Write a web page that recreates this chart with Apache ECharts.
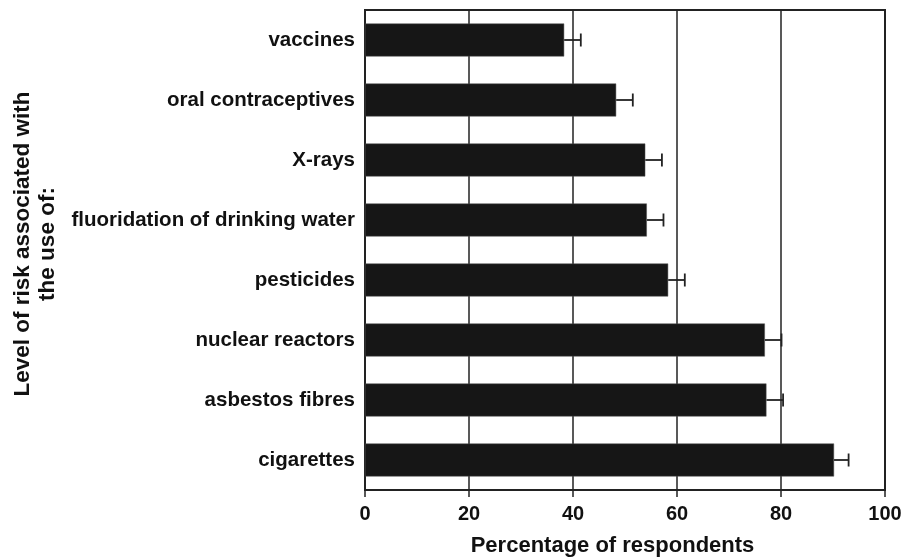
<!DOCTYPE html>
<html>
<head>
<meta charset="utf-8">
<script src="https://cdn.jsdelivr.net/npm/echarts@6/dist/echarts.min.js"></script>
<style>
  html, body { margin: 0; padding: 0; background: #fff; }
  #chart { width: 913px; height: 558px; }
</style>
</head>
<body>
<div id="chart"></div>
<script>
// Perceived risk by item, listed top to bottom
var categories = [
  'vaccines',
  'oral contraceptives',
  'X-rays',
  'fluoridation of drinking water',
  'pesticides',
  'nuclear reactors',
  'asbestos fibres',
  'cigarettes'
];
// Percentage of respondents
var values = [38.3, 48.3, 53.9, 54.2, 58.3, 76.9, 77.2, 90.2];
// Upper error (percentage points)
var errors = [3.2, 3.2, 3.2, 3.2, 3.2, 3.2, 3.2, 2.8];
var xTicks = [0, 20, 40, 60, 80, 100];

var FONT = '"Liberation Sans", Arial, Helvetica, sans-serif';
var INK = '#161616';

var errorData = values.map(function (v, i) { return [i, v, v + errors[i]]; });

var chart = echarts.init(document.getElementById('chart'), null, { renderer: 'canvas' });
chart.setOption({
  animation: false,
  backgroundColor: '#ffffff',
  grid: {
    left: 365, right: 28, top: 10, bottom: 68,
    containLabel: false,
    outerBoundsMode: 'none',
    show: true, borderColor: '#222', borderWidth: 2, backgroundColor: 'transparent'
  },
  xAxis: {
    type: 'value',
    min: xTicks[0],
    max: xTicks[xTicks.length - 1],
    interval: 20,
    name: 'Percentage of respondents',
    nameLocation: 'middle',
    nameGap: 45,
    nameTextStyle: {
      fontFamily: FONT, fontWeight: 'bold', fontSize: 22, color: '#111',
      padding: [0, 25, 0, 0]
    },
    axisLine: { show: true, lineStyle: { color: '#222', width: 2 } },
    axisTick: { show: true, inside: false, length: 7, lineStyle: { color: '#222', width: 1.5 } },
    axisLabel: { fontFamily: FONT, fontWeight: 'bold', fontSize: 20, color: '#111', margin: 14 },
    splitLine: { show: true, lineStyle: { color: '#222', width: 1.5 } }
  },
  yAxis: {
    type: 'category',
    data: categories,
    inverse: true,
    axisLine: { show: true, lineStyle: { color: '#222', width: 2 } },
    axisTick: { show: false },
    axisLabel: { fontFamily: FONT, fontWeight: 'bold', fontSize: 20.5, color: '#111', margin: 10 },
    splitLine: { show: false }
  },
  graphic: [{
    type: 'text',
    x: 35,
    y: 244,
    rotation: Math.PI / 2,
    style: {
      text: 'Level of risk associated with\nthe use of:',
      fontFamily: FONT,
      fontWeight: 'bold',
      fontSize: 22.5,
      lineHeight: 25,
      fill: '#111',
      align: 'center',
      verticalAlign: 'middle'
    }
  }],
  series: [
    {
      type: 'bar',
      data: values,
      barCategoryGap: '45%',
      itemStyle: { color: INK, borderColor: '#555', borderWidth: 0.5 },
      z: 3
    },
    {
      type: 'custom',
      data: errorData,
      z: 4,
      renderItem: function (params, api) {
        var idx = api.value(0);
        var from = api.coord([api.value(1), idx]);
        var to = api.coord([api.value(2), idx]);
        var half = 6.5;
        var style = { stroke: '#222', lineWidth: 1.8, fill: null };
        return {
          type: 'group',
          children: [
            { type: 'line', shape: { x1: from[0], y1: from[1], x2: to[0], y2: to[1] }, style: style },
            { type: 'line', shape: { x1: to[0], y1: to[1] - half, x2: to[0], y2: to[1] + half }, style: style }
          ]
        };
      }
    }
  ]
});
</script>
</body>
</html>
